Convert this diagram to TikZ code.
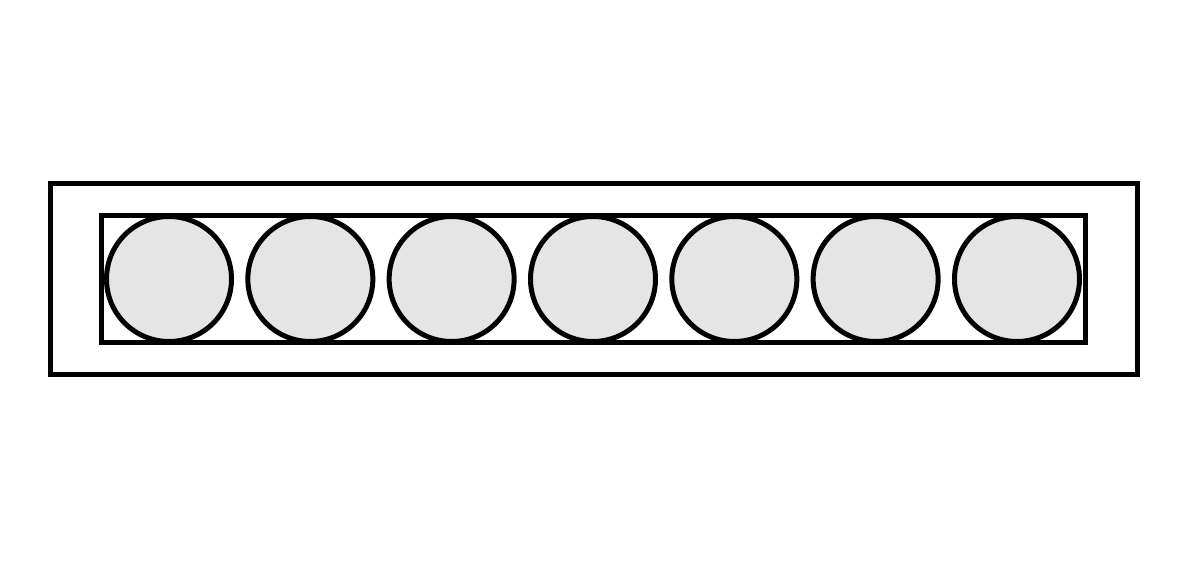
\documentclass[tikz,border=0pt]{standalone}
\usepackage{xcolor}
\definecolor{ballfill}{HTML}{E5E5E5}
\begin{document}
\begin{tikzpicture}[x=1pt,y=1pt,
  frame/.style={draw=black,line width=5pt,fill=none,inner sep=0pt,minimum width=#1},
  ball/.style={circle,draw=black,line width=5pt,fill=ballfill,minimum size=125pt,inner sep=0pt}]
\useasboundingbox (0,0) rectangle (1191,567);
\fill[white] (0,0) rectangle (1191,567);
\node[frame=1087pt,minimum height=191pt] (outer) at (593.5,287.5) {};
\node[frame=984pt,minimum height=127.5pt] (inner) at (593,287.75) {};
\foreach \i in {0,...,6}{
  \node[ball] (b\i) at ({169+141.33*\i},288) {};
}
\end{tikzpicture}
\end{document}
